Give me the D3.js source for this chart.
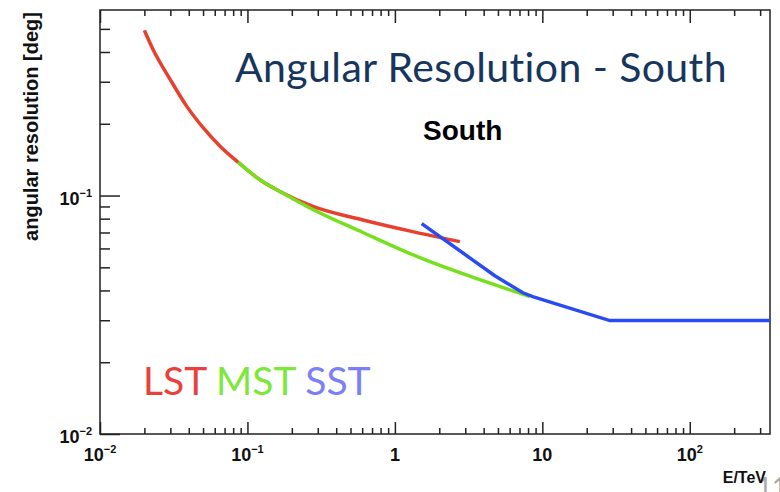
<!DOCTYPE html>
<html>
<head>
<meta charset="utf-8">
<script src="https://cdn.jsdelivr.net/npm/d3@7"></script>
<style>
  body { margin: 0; background: #fff; }
  svg text { font-family: "Liberation Sans", Arial, sans-serif; }
</style>
</head>
<body>
<svg id="chart" width="780" height="492"></svg>
<script>
// energies in TeV, angular resolution in deg
const lstEnergy = [0.02, 0.0229, 0.0299, 0.0389, 0.0499, 0.0652, 0.0863, 0.125, 0.166, 0.278, 0.607, 1.32, 2.76];
const lstRes    = [0.493, 0.410, 0.307, 0.236, 0.193, 0.161, 0.138, 0.115, 0.104, 0.090, 0.079, 0.0706, 0.0641];

const mstEnergy = [0.0863, 0.125, 0.166, 0.278, 0.607, 1.32, 1.73, 3.77, 8.22];
const mstRes    = [0.138, 0.115, 0.104, 0.0874, 0.070, 0.0565, 0.0528, 0.0444, 0.0377];

const sstEnergy = [1.52, 3.22, 4.76, 7.38, 8.6, 28.7, 350];
const sstRes    = [0.0762, 0.0548, 0.0461, 0.0391, 0.0377, 0.0299, 0.0299];

const xTickLabels = [["10", "\u22122"], ["10", "\u22121"], ["1", ""], ["10", ""], ["10", "2"]];
const xTickValues = [0.01, 0.1, 1, 10, 100];
const yTickLabels = [["10", "\u22122"], ["10", "\u22121"]];
const yTickValues = [0.01, 0.1];

const legendNames = ["LST", "MST", "SST"];

const svg = d3.select("#chart");

const x = d3.scaleLog().domain([0.01, 350]).range([100, 770]);
const y = d3.scaleLog().domain([0.01, 0.6]).range([434, 10]);

// minor ticks 2..9 of each decade
function minors(lo, hi) {
    let out = [];
    for (let p = -3; p <= 3; p++) {
        for (let m = 2; m <= 9; m++) {
            let v = m * Math.pow(10, p);
            if (v > lo && v < hi) out.push(v);
        }
    }
    return out;
}

let axisCol = "#222";

// bottom
svg.append("g").attr("transform", "translate(0,434)")
    .call(d3.axisBottom(x).tickValues(xTickValues).tickSize(-12).tickFormat(""))
    .call(g => g.select(".domain").remove());
svg.append("g").attr("transform", "translate(0,434)")
    .call(d3.axisBottom(x).tickValues(minors(0.01, 350)).tickSize(-6).tickFormat(""))
    .call(g => g.select(".domain").remove());
// top
svg.append("g").attr("transform", "translate(0,10)")
    .call(d3.axisTop(x).tickValues(xTickValues).tickSize(-13).tickFormat(""))
    .call(g => g.select(".domain").remove());
svg.append("g").attr("transform", "translate(0,10)")
    .call(d3.axisTop(x).tickValues(minors(0.01, 350)).tickSize(-6).tickFormat(""))
    .call(g => g.select(".domain").remove());
// left
svg.append("g").attr("transform", "translate(100,0)")
    .call(d3.axisLeft(y).tickValues(yTickValues).tickSize(-20).tickFormat(""))
    .call(g => g.select(".domain").remove());
svg.append("g").attr("transform", "translate(100,0)")
    .call(d3.axisLeft(y).tickValues(minors(0.01, 0.6)).tickSize(-10).tickFormat(""))
    .call(g => g.select(".domain").remove());

svg.selectAll(".tick line").attr("stroke", axisCol).attr("stroke-width", 1.5);

// frame
svg.append("rect")
    .attr("x", x.range()[0]).attr("y", y.range()[1])
    .attr("width", x.range()[1] - x.range()[0])
    .attr("height", y.range()[0] - y.range()[1])
    .attr("fill", "none").attr("stroke", axisCol).attr("stroke-width", 1.5);

// tick labels
function powLabel(sel, d) {
    sel.append("tspan").text(d[0]);
    if (d[1]) sel.append("tspan").attr("font-size", 11).attr("dy", -8).text(d[1]);
}
xTickValues.forEach((v, i) => {
    let t = svg.append("text")
        .attr("x", x(v)).attr("y", 461)
        .attr("text-anchor", "middle")
        .attr("font-weight", "bold").attr("font-size", 18).attr("fill", "#111");
    powLabel(t, xTickLabels[i]);
});
yTickValues.forEach((v, i) => {
    let t = svg.append("text")
        .attr("x", 92).attr("y", y(v) + 9)
        .attr("text-anchor", "end")
        .attr("font-weight", "bold").attr("font-size", 18).attr("fill", "#111");
    powLabel(t, yTickLabels[i]);
});

// axis titles
svg.append("text")
    .attr("transform", "translate(38,12) rotate(-90)")
    .attr("text-anchor", "end")
    .attr("font-weight", "bold").attr("font-size", 20).attr("fill", "#111")
    .text("angular resolution [deg]");

// slide page number behind axis title
svg.append("text")
    .attr("x", 757).attr("y", 497)
    .style("font-family", "Lato, sans-serif").attr("font-size", 26).attr("fill", "#a8a8a8")
    .text("11");

svg.append("text")
    .attr("x", 766).attr("y", 483)
    .attr("text-anchor", "end")
    .attr("font-weight", "bold").attr("font-size", 16).attr("fill", "#111")
    .text("E/TeV");

// curves
let line = d3.line().x(d => x(d[0])).y(d => y(d[1]));
let zip = (a, b) => a.map((v, i) => [v, b[i]]);

svg.append("path").datum(zip(lstEnergy, lstRes))
    .attr("d", line.curve(d3.curveMonotoneX))
    .attr("fill", "none").attr("stroke", "#e8402f").attr("stroke-width", 3.5);
svg.append("path").datum(zip(mstEnergy, mstRes))
    .attr("d", line.curve(d3.curveMonotoneX))
    .attr("fill", "none").attr("stroke", "#76e01c").attr("stroke-width", 3.5);
svg.append("path").datum(zip(sstEnergy, sstRes))
    .attr("d", line.curve(d3.curveLinear))
    .attr("fill", "none").attr("stroke", "#2a4af2").attr("stroke-width", 3.5);

// titles
svg.append("text")
    .attr("x", 235).attr("y", 82)
    .style("font-family", "Lato, sans-serif")
    .style("font-variant-ligatures", "none")
    .style("letter-spacing", "0.4px")
    .attr("font-size", 41).attr("fill", "#17365d")
    .text("Angular Resolution - South");

svg.append("text")
    .attr("x", 423).attr("y", 140)
    .attr("font-weight", "bold").attr("font-size", 28).attr("fill", "#000")
    .text("South");

// legend
let legendCol = ["#e8403a", "#7de83a", "#7c80f5"];
let leg = svg.append("text")
    .attr("x", 143).attr("y", 395)
    .style("font-family", "Lato, sans-serif").attr("font-size", 39);
legendNames.forEach((n, i) => {
    leg.append("tspan").attr("fill", legendCol[i]).text((i > 0 ? " " : "") + n);
});
</script>
</body>
</html>
